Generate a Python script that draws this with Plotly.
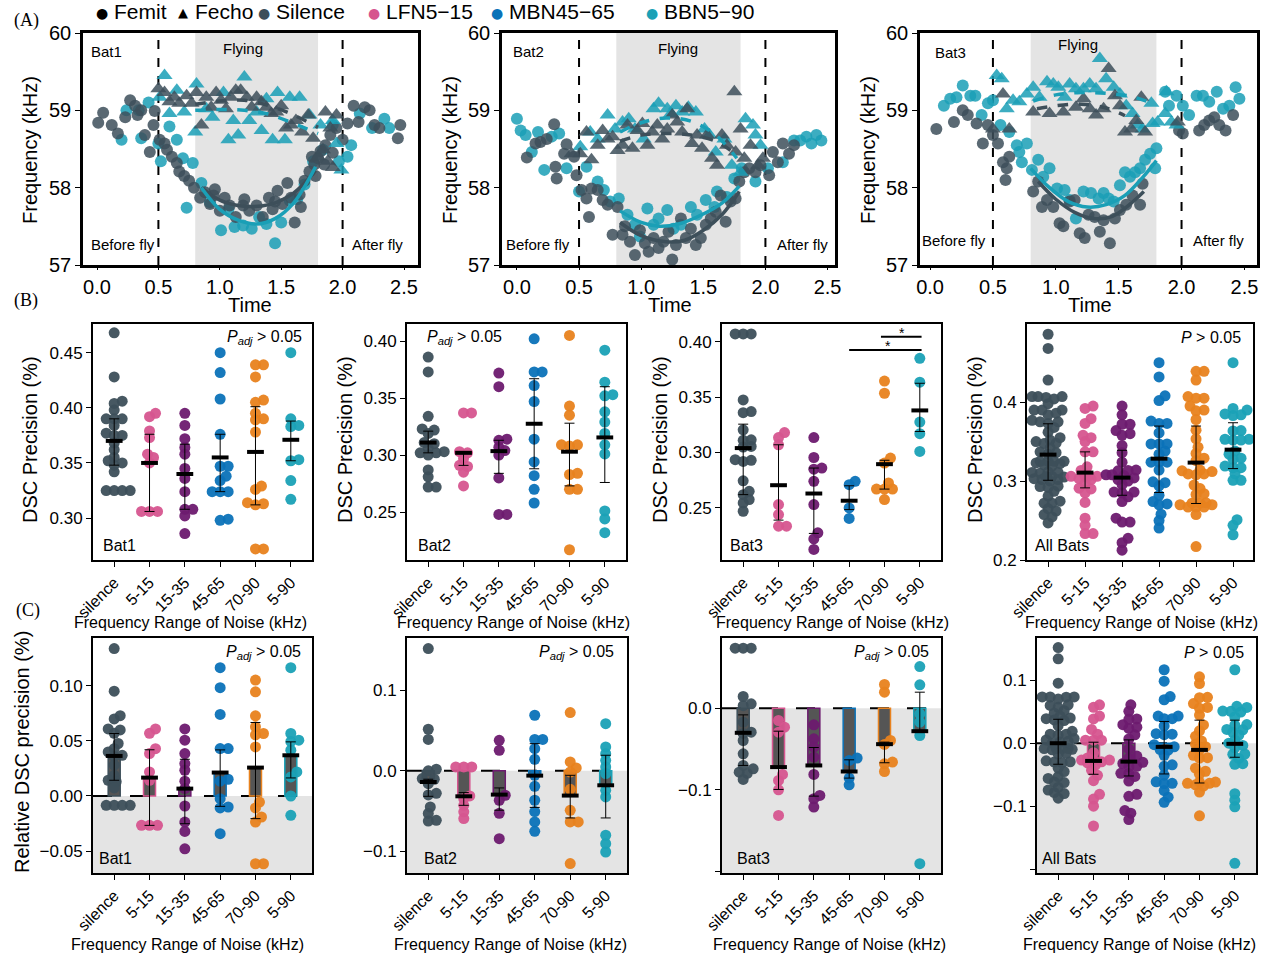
import plotly.graph_objects as go
import numpy as np

W, H = 1269, 956
FONT = "Liberation Sans, Arial, sans-serif"
SERIF = "Liberation Serif, Times New Roman, serif"
DARK = "#3d4f5a"
TEAL = "#1a9fb6"
CAT_LABELS = ["silence", "5-15", "15-35", "45-65", "70-90", "5-90"]
CAT_COLORS = ["#3d4f5a", "#d6558f", "#6d1a6f", "#0b72b8", "#e8821e", "#1aa1b6"]

# ---------------- Row A data: (time, frequency kHz) ----------------
bat1_sil_emit = [(0.01,58.84),(0.05,58.97),(0.12,58.81),(0.17,58.70),(0.23,58.91),(0.27,59.13),(0.31,59.06),(0.33,58.94),(0.36,59.00),(0.39,58.68),(0.43,58.46),(0.46,58.81),(0.47,58.99),(0.51,58.62),(0.55,58.57),(0.57,58.49),(0.61,58.40),(0.65,58.32),(0.67,58.21),(0.71,58.15),(0.75,58.09),(0.79,58.00),(0.84,57.87),(0.88,57.94),(0.92,57.79),(0.95,57.90),(0.96,57.98),(1.00,57.70),(1.04,57.87),(1.08,57.77),(1.13,57.62),(1.19,57.77),(1.20,57.85),(1.24,57.70),(1.30,57.77),(1.35,57.62),(1.40,57.87),(1.43,57.72),(1.45,57.82),(1.47,57.96),(1.51,57.79),(1.55,58.06),(1.58,57.87),(1.61,57.55),(1.65,57.91),(1.66,57.75),(1.69,58.09),(1.73,58.21),(1.75,58.40),(1.77,58.30),(1.78,58.15),(1.80,58.38),(1.82,58.47),(1.85,58.30),(1.86,58.55),(1.90,58.68),(1.92,58.45),(1.95,58.77),(2.00,58.62),(2.04,58.83),(2.09,59.06),(2.13,58.85),(2.18,59.04),(2.22,59.00),(2.26,58.81),(2.30,58.77),(2.45,58.64),(2.47,58.81)]
bat1_bbn_emit = [(0.20,58.62),(0.24,59.00),(0.34,59.00),(0.36,58.64),(0.42,59.10),(0.50,58.57),(0.52,58.34),(0.59,58.79),(0.65,58.62),(0.70,58.38),(0.73,57.74),(0.78,58.32),(0.85,58.06),(0.92,57.81),(1.01,57.45),(1.07,57.72),(1.12,57.49),(1.19,57.51),(1.26,57.47),(1.32,57.62),(1.38,57.53),(1.45,57.28),(1.50,57.55),(1.57,57.83),(1.63,57.85),(1.69,58.04),(1.76,58.34),(1.84,58.49),(1.92,58.81),(1.97,58.34),(2.04,58.40),(2.07,58.55),(2.14,58.96),(2.24,58.77),(2.34,58.89),(2.38,58.77)]
bat1_sil_echo = [(0.50,59.28),(0.55,59.23),(0.59,59.11),(0.63,59.17),(0.67,59.09),(0.73,59.19),(0.77,59.09),(0.81,59.23),(0.85,58.81),(0.89,59.17),(0.93,59.04),(0.97,59.23),(1.01,59.13),(1.05,59.02),(1.09,59.17),(1.13,59.26),(1.17,59.26),(1.22,59.17),(1.26,59.04),(1.30,59.17),(1.34,59.11),(1.38,59.04),(1.42,58.96),(1.46,58.98),(1.50,59.06),(1.54,58.77),(1.58,58.81),(1.62,58.87),(1.67,58.72),(1.72,58.94),(1.76,58.64),(1.80,58.40),(1.84,58.49),(1.86,58.98),(1.88,58.34),(1.90,58.77),(1.92,58.26),(1.95,58.94)]
bat1_bbn_echo = [(0.51,59.17),(0.55,59.45),(0.59,58.96),(0.65,59.26),(0.71,58.98),(0.80,58.72),(0.81,59.34),(0.89,59.02),(0.94,58.91),(1.03,59.23),(1.07,58.62),(1.11,58.87),(1.15,58.68),(1.20,59.43),(1.24,58.87),(1.30,58.98),(1.34,58.74),(1.38,59.15),(1.43,58.62),(1.47,59.23),(1.53,58.62),(1.57,59.17),(1.65,59.17),(1.73,58.94),(1.82,58.81),(1.92,58.87),(1.95,58.57),(1.99,58.23)]
bat1_sil_emit_fit = [(0.85,58.00),(1.00,57.84),(1.20,57.76),(1.40,57.78),(1.60,57.93),(1.78,58.22)]
bat1_bbn_emit_fit = [(0.85,58.00),(1.00,57.72),(1.15,57.58),(1.30,57.53),(1.45,57.60),(1.60,57.80),(1.78,58.27)]
bat1_sil_echo_fit = [(0.80,59.08),(1.00,59.12),(1.20,59.13),(1.40,59.06),(1.60,58.94),(1.80,58.78)]
bat1_bbn_echo_fit = [(0.80,59.00),(1.00,59.01),(1.20,59.00),(1.40,58.95),(1.60,58.83),(1.80,58.70)]

bat2_sil_emit = [(0.08,58.39),(0.15,58.57),(0.19,58.59),(0.24,58.63),(0.30,58.82),(0.31,58.27),(0.32,58.12),(0.38,58.44),(0.40,58.56),(0.46,58.40),(0.48,58.16),(0.52,57.97),(0.56,57.86),(0.58,57.62),(0.60,57.99),(0.65,57.97),(0.69,57.84),(0.73,57.78),(0.77,57.39),(0.81,57.75),(0.85,57.39),(0.87,57.50),(0.91,57.30),(0.95,57.13),(0.99,57.45),(1.03,57.28),(1.06,57.17),(1.10,57.35),(1.14,57.22),(1.18,57.30),(1.22,57.43),(1.25,57.07),(1.28,57.26),(1.32,57.60),(1.36,57.35),(1.40,57.47),(1.44,57.26),(1.48,57.35),(1.52,57.52),(1.56,57.60),(1.60,57.69),(1.64,57.90),(1.68,57.56),(1.72,57.82),(1.76,57.86),(1.79,58.08),(1.83,58.20),(1.87,58.25),(1.92,58.20),(1.96,58.29),(2.03,58.16),(2.06,58.46),(2.10,58.33),(2.14,58.57),(2.19,58.44),(2.23,58.55)]
bat2_bbn_emit = [(0.00,58.89),(0.03,58.74),(0.07,58.68),(0.12,58.46),(0.17,58.72),(0.22,58.23),(0.28,58.66),(0.34,58.70),(0.40,58.25),(0.50,57.95),(0.56,58.27),(0.65,58.08),(0.70,57.97),(0.75,57.82),(0.82,57.86),(0.89,57.65),(0.95,57.52),(0.99,57.37),(1.05,57.73),(1.10,57.52),(1.14,57.60),(1.21,57.71),(1.26,57.47),(1.32,57.52),(1.40,57.75),(1.45,57.65),(1.52,57.84),(1.59,57.75),(1.61,57.95),(1.69,57.88),(1.75,58.12),(1.81,58.25),(1.92,58.08),(2.02,58.25),(2.14,58.33),(2.23,58.61),(2.28,58.61),(2.33,58.66),(2.37,58.57),(2.41,58.68),(2.45,58.61)]
bat2_sil_echo = [(0.44,58.44),(0.51,58.44),(0.56,58.72),(0.60,58.36),(0.65,58.55),(0.69,58.74),(0.73,58.63),(0.77,58.66),(0.81,58.48),(0.85,58.55),(0.89,58.81),(0.93,58.51),(0.97,58.74),(1.01,58.83),(1.05,58.55),(1.09,58.72),(1.13,58.81),(1.17,58.63),(1.21,58.76),(1.25,58.94),(1.29,58.85),(1.33,58.72),(1.37,59.02),(1.41,58.57),(1.45,58.68),(1.49,58.51),(1.53,58.68),(1.57,58.38),(1.61,58.29),(1.65,58.68),(1.69,58.55),(1.75,59.24),(1.76,58.46),(1.80,58.76),(1.83,58.38),(1.88,58.55),(1.94,58.29),(1.98,58.38)]
bat2_bbn_echo = [(0.51,58.53),(0.59,58.72),(0.65,58.63),(0.73,58.94),(0.79,58.76),(0.85,58.85),(0.90,58.89),(0.95,58.76),(1.02,58.63),(1.10,59.02),(1.14,59.09),(1.21,59.02),(1.24,58.96),(1.28,59.06),(1.33,58.98),(1.38,59.04),(1.44,58.98),(1.51,58.76),(1.55,58.68),(1.60,58.46),(1.67,58.63),(1.73,58.29),(1.80,58.20),(1.84,58.89),(1.90,58.81),(1.92,58.68),(1.96,58.55)]
bat2_sil_emit_fit = [(0.83,57.55),(1.00,57.38),(1.20,57.30),(1.35,57.32),(1.50,57.45),(1.65,57.65),(1.79,57.95)]
bat2_bbn_emit_fit = [(0.83,57.70),(1.00,57.55),(1.15,57.50),(1.30,57.53),(1.50,57.66),(1.65,57.80),(1.79,58.02)]
bat2_sil_echo_fit = [(0.83,58.60),(1.00,58.68),(1.20,58.70),(1.40,58.68),(1.60,58.60),(1.77,58.42)]
bat2_bbn_echo_fit = [(0.83,58.72),(1.00,58.84),(1.20,58.90),(1.40,58.86),(1.60,58.68),(1.77,58.38)]

bat3_sil_emit = [(0.05,58.76),(0.19,58.85),(0.26,59.00),(0.30,58.94),(0.37,58.83),(0.42,58.57),(0.46,58.81),(0.50,58.68),(0.54,58.57),(0.58,58.33),(0.60,58.10),(0.61,58.25),(0.63,58.40),(0.82,57.95),(0.86,58.08),(0.89,57.75),(0.93,57.84),(0.98,57.75),(1.03,57.54),(1.06,57.50),(1.11,57.82),(1.15,57.84),(1.19,57.41),(1.23,57.35),(1.26,57.65),(1.31,57.62),(1.35,57.43),(1.38,57.58),(1.43,57.28),(1.47,57.60),(1.51,57.71),(1.56,57.78),(1.61,57.90),(1.67,57.78),(1.69,58.05),(1.98,58.74),(2.01,58.70),(2.14,58.74),(2.18,58.81),(2.22,58.87),(2.26,58.91),(2.30,58.81),(2.35,58.74),(2.41,58.94)]
bat3_bbn_emit = [(0.11,59.06),(0.16,59.15),(0.21,59.17),(0.26,59.32),(0.32,59.19),(0.36,59.19),(0.41,58.94),(0.46,59.09),(0.50,59.13),(0.56,58.81),(0.63,58.72),(0.69,58.55),(0.71,58.46),(0.73,58.33),(0.77,58.57),(0.81,58.23),(0.86,58.36),(0.90,58.14),(0.95,58.25),(1.01,57.99),(1.07,57.97),(1.11,57.84),(1.16,57.60),(1.22,57.95),(1.28,57.93),(1.34,57.86),(1.38,57.93),(1.42,57.86),(1.46,57.82),(1.51,58.03),(1.55,58.20),(1.59,58.14),(1.63,58.20),(1.67,58.25),(1.71,58.36),(1.75,58.44),(1.79,58.25),(1.80,58.51),(1.87,59.24),(1.90,59.06),(1.96,59.19),(2.01,59.06),(2.06,58.94),(2.12,59.19),(2.17,59.19),(2.22,59.11),(2.28,59.24),(2.33,59.02),(2.38,59.06),(2.43,59.30),(2.46,59.15)]
bat3_sil_echo = [(0.50,58.76),(0.58,59.21),(0.63,58.76),(0.82,58.98),(0.95,58.96),(1.06,58.98),(1.16,59.04),(1.22,59.15),(1.27,59.02),(1.32,58.94),(1.38,59.02),(1.42,59.54),(1.47,59.19),(1.51,59.06),(1.55,58.72),(1.60,58.76),(1.64,58.87),(1.68,59.17),(1.71,58.72),(1.97,58.85)]
bat3_bbn_echo = [(0.53,59.45),(0.57,59.41),(0.61,59.02),(0.66,59.13),(0.71,59.11),(0.77,59.21),(0.82,59.30),(0.87,59.17),(0.93,59.37),(0.98,59.34),(1.02,59.30),(1.07,59.17),(1.11,59.34),(1.16,59.28),(1.22,59.28),(1.27,59.34),(1.32,59.28),(1.35,59.67),(1.40,59.41),(1.46,59.30),(1.51,59.21),(1.56,59.06),(1.61,58.96),(1.65,58.81),(1.69,58.76),(1.76,59.09),(1.77,58.83),(1.81,58.85),(1.87,58.96),(1.88,59.24),(1.92,58.85),(1.96,58.81)]
bat3_sil_emit_fit = [(0.86,58.08),(1.00,57.85),(1.15,57.68),(1.30,57.60),(1.45,57.63),(1.60,57.80),(1.70,57.95)]
bat3_bbn_emit_fit = [(0.80,58.25),(0.95,58.00),(1.10,57.82),(1.25,57.75),(1.40,57.78),(1.55,57.90),(1.70,58.15),(1.80,58.35)]
bat3_sil_echo_fit = [(0.85,59.02),(1.00,59.06),(1.20,59.08),(1.40,59.03),(1.55,58.93)]
bat3_bbn_echo_fit = [(0.82,59.12),(1.00,59.20),(1.20,59.23),(1.40,59.22),(1.60,59.18),(1.75,59.10)]

# ---------------- Row B data: DSC precision ----------------
b1_silence = [0.468,0.428,0.406,0.404,0.398,0.390,0.390,0.390,0.384,0.377,0.375,0.375,0.368,0.362,0.355,0.352,0.350,0.348,0.342,0.325,0.325,0.325,0.325]
b1_515 = [0.395,0.392,0.379,0.373,0.358,0.355,0.350,0.306,0.306,0.306]
b1_1535 = [0.395,0.384,0.372,0.364,0.358,0.345,0.336,0.324,0.308,0.308,0.302,0.286]
b1_4565 = [0.450,0.432,0.408,0.376,0.347,0.347,0.338,0.334,0.324,0.324,0.324,0.299,0.298]
b1_7090 = [0.439,0.439,0.428,0.407,0.405,0.395,0.390,0.389,0.378,0.329,0.326,0.314,0.313,0.312,0.272,0.272]
b1_590 = [0.450,0.390,0.384,0.383,0.353,0.352,0.334,0.317]
b1_mean = [0.370,0.350,0.340,0.355,0.360,0.371]
b1_lo = [0.348,0.306,0.308,0.324,0.312,0.352]
b1_hi = [0.390,0.376,0.367,0.376,0.401,0.388]

b2_silence = [0.386,0.373,0.334,0.323,0.322,0.319,0.311,0.310,0.306,0.303,0.302,0.302,0.300,0.287,0.281,0.272,0.272]
b2_515 = [0.337,0.337,0.303,0.302,0.297,0.291,0.290,0.285,0.273]
b2_1535 = [0.372,0.360,0.314,0.313,0.307,0.304,0.300,0.280,0.248,0.248]
b2_4565 = [0.402,0.373,0.373,0.361,0.347,0.314,0.294,0.282,0.270,0.258]
b2_7090 = [0.405,0.343,0.335,0.309,0.309,0.308,0.284,0.283,0.270,0.270,0.217]
b2_590 = [0.392,0.364,0.353,0.352,0.338,0.329,0.319,0.309,0.301,0.251,0.244,0.232]
b2_mean = [0.311,0.302,0.3035,0.3275,0.303,0.3155]
b2_lo = [0.302,0.291,0.284,0.288,0.273,0.276]
b2_hi = [0.321,0.302,0.313,0.367,0.328,0.360]

b3_silence = [0.407,0.407,0.407,0.3475,0.337,0.336,0.3205,0.3115,0.311,0.3055,0.305,0.2935,0.293,0.292,0.2745,0.265,0.262,0.2575,0.2545,0.247]
b3_515 = [0.318,0.3135,0.307,0.253,0.244,0.2335,0.2335]
b3_1535 = [0.3135,0.2955,0.286,0.285,0.274,0.253,0.2275,0.222,0.2125]
b3_4565 = [0.274,0.271,0.250,0.2405]
b3_7090 = [0.3645,0.3535,0.295,0.2905,0.2725,0.267,0.267,0.267,0.2575]
b3_590 = [0.385,0.3635,0.3275,0.317,0.301]
b3_mean = [0.304,0.2705,0.263,0.2565,0.2895,0.338]
b3_lo = [0.262,0.239,0.227,0.2485,0.267,0.319]
b3_hi = [0.3256,0.307,0.286,0.270,0.293,0.3625]

ball_extra_silence = [0.486]
ball_mean = [0.3335,0.3107,0.3044,0.3284,0.3234,0.3398]
ball_lo = [0.301,0.2914,0.282,0.2855,0.2716,0.3158]
ball_hi = [0.3726,0.337,0.339,0.3697,0.3697,0.3739]

# ---------------- Row C data: relative DSC precision ----------------
c1_silence = [0.134,0.0953,0.073,0.070,0.061,0.060,0.057,0.0477,0.043,0.040,0.037,0.036,0.028,0.0188,0.0143,0.013,0.0073,-0.0085,-0.0085,-0.0085,-0.0085]
c1_515 = [0.061,0.057,0.043,0.0386,0.0219,0.0143,-0.0267,-0.0267,-0.0267]
c1_1535 = [0.061,0.0507,0.0386,0.0295,0.0234,0.0134,0.0067,-0.0091,-0.0237,-0.0322,-0.048]
c1_4565 = [0.1166,0.0984,0.0741,0.0431,0.0431,0.0152,0.0135,-0.0024,-0.0109,-0.0100,-0.0343]
c1_7090 = [0.1054,0.0947,0.0729,0.0629,0.0568,0.0555,0.0446,-0.0055,-0.0109,-0.0191,-0.0237,-0.0616,-0.0616]
c1_590 = [0.1166,0.0568,0.0507,0.0495,0.0416,0.0219,0.0173,0.0,-0.0176]
c1_mean = [0.0364,0.0167,0.0067,0.0213,0.0258,0.037]
c1_lo = [0.0143,-0.0267,-0.0252,-0.0094,-0.0206,0.0164]
c1_hi = [0.0568,0.042,0.0334,0.0419,0.0668,0.0492]

c2_silence = [0.1518,0.0516,0.039,0.0019,0.0,-0.0097,-0.0105,-0.016,-0.028,-0.030,-0.045,-0.053,-0.0615,-0.0625]
c2_515 = [0.0048,0.0048,0.0048,-0.0313,-0.0346,-0.0429,-0.051,-0.0594]
c2_1535 = [0.0379,0.0255,-0.0304,-0.0366,-0.0528,-0.0843]
c2_4565 = [0.069,0.039,0.039,0.0275,0.0143,-0.0056,-0.0193,-0.0366,-0.0507,-0.0636,-0.0752]
c2_7090 = [0.0723,0.011,0.0035,-0.0015,-0.023,-0.0491,-0.0636,-0.0636,-0.1153]
c2_590 = [0.0586,0.0296,0.0213,0.013,0.0048,-0.0035,-0.0242,-0.0325,-0.0801,-0.0905,-0.1009]
c2_mean = [-0.0139,-0.0317,-0.0296,-0.006,-0.0308,-0.018]
c2_lo = [-0.0317,-0.0429,-0.049,-0.0455,-0.0586,-0.0586]
c2_hi = [-0.0105,-0.0271,-0.0213,0.0337,-0.0056,0.0193]

c3_silence = [0.0735,0.0735,0.0735,0.0143,0.0053,0.003,-0.0171,-0.0294,-0.031,-0.0396,-0.0559,-0.0702,-0.0743,-0.0784,-0.080,-0.0873]
c3_515 = [-0.0151,-0.0233,-0.0294,-0.0812,-0.0886,-0.100,-0.1314]
c3_1535 = [-0.0204,-0.0376,-0.0478,-0.060,-0.0812,-0.1069,-0.111,-0.1212]
c3_4565 = [-0.0612,-0.064,-0.0857,-0.0939]
c3_7090 = [0.029,0.0196,-0.0396,-0.0445,-0.0661,-0.0682,-0.0776]
c3_590 = [0.051,0.0286,-0.0069,-0.0171,-0.0335,-0.1906]
c3_mean = [-0.0302,-0.0722,-0.0702,-0.0776,-0.0441,-0.0282]
c3_lo = [-0.0702,-0.0996,-0.1078,-0.0857,-0.0669,-0.0282]
c3_hi = [-0.0082,-0.0282,-0.0482,-0.0633,-0.0416,0.0196]

call_mean = [0.0,-0.0281,-0.0292,-0.0058,-0.0106,-0.001]
call_lo = [-0.0334,-0.0493,-0.052,-0.0488,-0.0631,-0.0223]
call_hi = [0.038,0.0016,0.0053,0.0345,0.0366,0.0366]

# ======================================================================
fig = go.Figure()
axes = {}
shapes = []
annotations = []


def names(n):
    if n == 1:
        return "x", "y", "xaxis", "yaxis"
    return f"x{n}", f"y{n}", f"xaxis{n}", f"yaxis{n}"


def setup_axes(n, box, xr, yr, xticks, xtext, yticks, ytext, xfs, yfs, xangle=0, lw=2, xticklen=5):
    l, t, r, b = box
    xn, yn, xk, yk = names(n)
    common = dict(showline=True, mirror=True, linecolor="black", linewidth=lw,
                  ticks="outside", tickwidth=1, tickcolor="black",
                  showgrid=False, zeroline=False, fixedrange=True, automargin=False)
    axes[xk] = dict(domain=[l / W, r / W], range=xr, anchor=yn, tickmode="array", ticklen=xticklen,
                    tickvals=xticks, ticktext=xtext, tickangle=xangle,
                    tickfont=dict(family=FONT, size=xfs, color="black"), **common)
    axes[yk] = dict(domain=[1 - b / H, 1 - t / H], range=yr, anchor=xn, tickmode="array", ticklen=5,
                    tickvals=yticks, ticktext=ytext,
                    tickfont=dict(family=FONT, size=yfs, color="black"), **common)
    return xn, yn


def text(xp, yp, s, size, xanchor="center", angle=0, family=FONT, yanchor="middle", color="black"):
    annotations.append(dict(x=xp / W, y=1 - yp / H, xref="paper", yref="paper", text=s,
                            showarrow=False, xanchor=xanchor, yanchor=yanchor, textangle=angle,
                            font=dict(family=family, size=size, color=color)))


# ---------------- Row A ----------------
top_panels = [
    (1, (83, 33, 418, 265), [-0.114, 2.614], bat1_sil_emit, bat1_bbn_emit, bat1_sil_echo, bat1_bbn_echo,
     bat1_sil_emit_fit, bat1_bbn_emit_fit, bat1_sil_echo_fit, bat1_bbn_echo_fit),
    (2, (502, 33, 835, 265), [-0.12, 2.56], bat2_sil_emit, bat2_bbn_emit, bat2_sil_echo, bat2_bbn_echo,
     bat2_sil_emit_fit, bat2_bbn_emit_fit, bat2_sil_echo_fit, bat2_bbn_echo_fit),
    (3, (920, 33, 1257, 265), [-0.08, 2.6], bat3_sil_emit, bat3_bbn_emit, bat3_sil_echo, bat3_bbn_echo,
     bat3_sil_emit_fit, bat3_bbn_emit_fit, bat3_sil_echo_fit, bat3_bbn_echo_fit),
]
time_ticks = [0.0, 0.5, 1.0, 1.5, 2.0, 2.5]
freq_ticks = [57, 58, 59, 60]
for (n, box, xr, se, be, sc, bc, sef, bef, scf, bcf) in top_panels:
    xn, yn = setup_axes(n, box, xr, [57, 60], time_ticks, [f"{v:.1f}" for v in time_ticks],
                        freq_ticks, [str(v) for v in freq_ticks], 20, 20, lw=2.5, xticklen=2)
    shapes.append(dict(type="rect", xref=xn, yref=yn, x0=0.8, x1=1.8, y0=57, y1=60,
                       fillcolor="#e4e4e4", line=dict(width=0), layer="below"))
    for xv in (0.5, 2.0):
        shapes.append(dict(type="line", xref=xn, yref=yn, x0=xv, x1=xv, y0=57, y1=60,
                           line=dict(color="black", width=2, dash="dash"), layer="below"))
    for pts, col, sym, sz in ((be, TEAL, "circle", 12), (se, DARK, "circle", 12),
                              (bc, TEAL, "triangle-up", 14), (sc, DARK, "triangle-up", 14)):
        fig.add_trace(go.Scatter(x=[p[0] for p in pts], y=[p[1] for p in pts], mode="markers",
                                 marker=dict(color=col, symbol=sym, size=sz, opacity=0.85, line=dict(width=0)),
                                 xaxis=xn, yaxis=yn, showlegend=False, hoverinfo="skip"))
    for pts, col, dash in ((sef, DARK, "solid"), (bef, TEAL, "solid"), (scf, DARK, "dash"), (bcf, TEAL, "dash")):
        fig.add_trace(go.Scatter(x=[p[0] for p in pts], y=[p[1] for p in pts], mode="lines",
                                 line=dict(color=col, width=3.5, dash=dash, shape="spline"),
                                 xaxis=xn, yaxis=yn, showlegend=False, hoverinfo="skip"))

# Row A texts
text(89, 52, "Bat1", 15, "left")
text(243, 48, "Flying", 15)
text(157, 245, "Before fly", 15, "right")
text(350, 245, "After fly", 15, "left")
text(511, 52, "Bat2", 15, "left")
text(678, 48, "Flying", 15)
text(572, 245, "Before fly", 15, "right")
text(775, 245, "After fly", 15, "left")
text(933, 53, "Bat3", 15, "left")
text(1078, 45, "Flying", 15)
text(988, 241, "Before fly", 15, "right")
text(1191, 241, "After fly", 15, "left")
for cx in (30, 450, 868):
    text(cx, 150, "Frequency (kHz)", 20, angle=-90)
text(250, 305, "Time", 20)
text(670, 305, "Time", 20)
text(1090, 305, "Time", 20)


# ---------------- swarm helper ----------------
def swarm(values, px_per_unit, px_per_cat, dmin=6.5, step=2.0, maxoff=16.0):
    vals = np.asarray(values, dtype=float)
    order = np.argsort(vals)
    placed = []
    offs = np.zeros(len(vals))
    cands = [0.0]
    k = 1
    while k * step <= maxoff:
        cands += [k * step, -k * step]
        k += 1
    for i in order:
        y = vals[i] * px_per_unit
        best, bestd = 0.0, -1.0
        for c in cands:
            d = min([np.hypot(c - px, y - py) for px, py in placed] + [1e9])
            if d >= dmin:
                best = c
                break
            if d > bestd:
                best, bestd = c, d
        placed.append((best, y))
        offs[i] = best / px_per_cat
    return offs


def dot_panel(n, box, xr, yr, groups, mean, lo, hi, yticks, ytext, bars=False):
    xn, yn = setup_axes(n, box, xr, yr, list(range(6)), CAT_LABELS, yticks, ytext, 16, 17, xangle=-45, lw=2)
    l, t, r, b = box
    ppu = (b - t) / (yr[1] - yr[0])
    ppc = (r - l) / (xr[1] - xr[0])
    if bars:
        shapes.append(dict(type="rect", xref=xn, yref=yn, x0=xr[0], x1=xr[1], y0=yr[0], y1=0,
                           fillcolor="#e4e4e4", line=dict(width=0), layer="below"))
        shapes.append(dict(type="line", xref=xn, yref=yn, x0=xr[0], x1=xr[1], y0=0, y1=0,
                           line=dict(color="black", width=2, dash="19px,18px"), layer="below"))
        fig.add_trace(go.Bar(x=list(range(6)), y=mean, width=0.34, xaxis=xn, yaxis=yn,
                             marker=dict(color="#555555", line=dict(color=CAT_COLORS, width=1.5)),
                             showlegend=False, hoverinfo="skip"))
    for i, vals in enumerate(groups):
        offs = swarm(vals, ppu, ppc)
        fig.add_trace(go.Scatter(x=i + offs, y=vals, mode="markers", xaxis=xn, yaxis=yn,
                                 marker=dict(color=CAT_COLORS[i], size=11, opacity=0.95, line=dict(width=0)),
                                 showlegend=False, hoverinfo="skip"))
    m = np.array(mean); lo_ = np.array(lo); hi_ = np.array(hi)
    fig.add_trace(go.Scatter(x=list(range(6)), y=mean, mode="markers", xaxis=xn, yaxis=yn,
                             marker=dict(size=1, color="rgba(0,0,0,0)"),
                             error_y=dict(type="data", symmetric=False, array=list(hi_ - m),
                                          arrayminus=list(m - lo_), color="black", thickness=1, width=5),
                             showlegend=False, hoverinfo="skip"))
    fig.add_trace(go.Scatter(x=list(range(6)), y=mean, mode="markers", xaxis=xn, yaxis=yn,
                             marker=dict(symbol="line-ew", size=12, line=dict(width=4, color="black")),
                             showlegend=False, hoverinfo="skip"))
    return xn, yn


XR = [-0.6, 5.6]
b_all = [b1_silence + b2_silence + b3_silence + ball_extra_silence, b1_515 + b2_515 + b3_515,
         b1_1535 + b2_1535 + b3_1535, b1_4565 + b2_4565 + b3_4565, b1_7090 + b2_7090 + b3_7090,
         b1_590 + b2_590 + b3_590]
dot_panel(4, (93, 324, 312, 560), XR, [0.262, 0.476], [b1_silence, b1_515, b1_1535, b1_4565, b1_7090, b1_590],
          b1_mean, b1_lo, b1_hi, [0.30, 0.35, 0.40, 0.45], ["0.30", "0.35", "0.40", "0.45"])
dot_panel(5, (407, 324, 626, 560), XR, [0.208, 0.415], [b2_silence, b2_515, b2_1535, b2_4565, b2_7090, b2_590],
          b2_mean, b2_lo, b2_hi, [0.25, 0.30, 0.35, 0.40], ["0.25", "0.30", "0.35", "0.40"])
xn7, yn7 = dot_panel(6, (722, 324, 941, 560), XR, [0.203, 0.416], [b3_silence, b3_515, b3_1535, b3_4565, b3_7090, b3_590],
                     b3_mean, b3_lo, b3_hi, [0.25, 0.30, 0.35, 0.40], ["0.25", "0.30", "0.35", "0.40"])
dot_panel(7, (1027, 324, 1253, 560), [-0.57, 5.54], [0.2, 0.499], b_all,
          ball_mean, ball_lo, ball_hi, [0.2, 0.3, 0.4], ["0.2", "0.3", "0.4"])

# significance bars in Bat3
for x0, x1, yv, xs in ((3.9, 5.05, 0.4045, 4.5), (3.0, 5.05, 0.3925, 4.1)):
    shapes.append(dict(type="line", xref=xn7, yref=yn7, x0=x0, x1=x1, y0=yv, y1=yv,
                       line=dict(color="black", width=2)))
    annotations.append(dict(x=xs, y=yv, xref=xn7, yref=yn7, text="*", showarrow=False,
                            yanchor="bottom", yshift=-6, font=dict(family=FONT, size=14, color="black")))

c_all = [c1_silence + c2_silence + c3_silence, c1_515 + c2_515 + c3_515, c1_1535 + c2_1535 + c3_1535,
         c1_4565 + c2_4565 + c3_4565, c1_7090 + c2_7090 + c3_7090, c1_590 + c2_590 + c3_590]
dot_panel(8, (93, 638, 312, 873), XR, [-0.07, 0.1436], [c1_silence, c1_515, c1_1535, c1_4565, c1_7090, c1_590],
          c1_mean, c1_lo, c1_hi, [-0.05, 0.0, 0.05, 0.10], ["\u22120.05", "0.00", "0.05", "0.10"], bars=True)
dot_panel(9, (407, 638, 627, 873), XR, [-0.127, 0.165], [c2_silence, c2_515, c2_1535, c2_4565, c2_7090, c2_590],
          c2_mean, c2_lo, c2_hi, [-0.1, 0.0, 0.1], ["\u22120.1", "0.0", "0.1"], bars=True)
dot_panel(10, (722, 638, 941, 873), XR, [-0.202, 0.086], [c3_silence, c3_515, c3_1535, c3_4565, c3_7090, c3_590],
          c3_mean, c3_lo, c3_hi, [-0.2, -0.1, 0.0], ["", "\u22120.1", "0.0"], bars=True)
dot_panel(11, (1037, 638, 1256, 873), XR, [-0.206, 0.167], c_all,
          call_mean, call_lo, call_hi, [-0.2, -0.1, 0.0, 0.1], ["", "\u22120.1", "0.0", "0.1"], bars=True)

# Row B/C texts
PADJ = "<i>P</i><sub><i>adj</i></sub> > 0.05"
text(304, 337, PADJ, 16, "right")
text(425, 337, PADJ, 16, "left")
text(1243, 337, "<i>P</i> > 0.05", 16, "right")
text(303, 652, PADJ, 16, "right")
text(616, 652, PADJ, 16, "right")
text(931, 652, PADJ, 16, "right")
text(1246, 652, "<i>P</i> > 0.05", 16, "right")
text(101, 545, "Bat1", 16, "left")
text(416, 545, "Bat2", 16, "left")
text(728, 545, "Bat3", 16, "left")
text(1033, 545, "All Bats", 16, "left")
text(97, 858, "Bat1", 16, "left")
text(422, 858, "Bat2", 16, "left")
text(735, 858, "Bat3", 16, "left")
text(1040, 858, "All Bats", 16, "left")
for cx in (30, 345, 660, 975):
    text(cx, 440, "DSC Precision (%)", 20, angle=-90)
text(22, 752, "Relative DSC precision (%)", 20, angle=-90)
for cx in (190, 513, 833, 1141):
    text(cx, 622, "Frequency Range of Noise (kHz)", 16)
for cx in (187, 510, 830, 1139):
    text(cx, 944, "Frequency Range of Noise (kHz)", 16)

# panel letters
text(12, 20, "(A)", 18, "left", family=SERIF)
text(12, 300, "(B)", 18, "left", family=SERIF)
text(14, 610, "(C)", 18, "left", family=SERIF)

# legend row: glyph centre x, glyph, glyph size, colour, label left x, label
legend_items = [(102, "\u25CF", 14, "#000000", 112, "Femit"),
                (183, "\u25B2", 13, "#000000", 193, "Fecho"),
                (264, "\u25CF", 14, DARK, 274, "Silence"),
                (374, "\u25CF", 14, CAT_COLORS[1], 384, "LFN5\u221215"),
                (497, "\u25CF", 14, CAT_COLORS[3], 507, "MBN45\u221265"),
                (652, "\u25CF", 14, CAT_COLORS[5], 662, "BBN5\u221290")]
for gx, glyph, gs, col, lx, lab in legend_items:
    text(gx, 13, glyph, gs, "center", family="DejaVu Sans", color=col)
    text(lx, 12, lab, 21, "left")

fig.update_layout(width=W, height=H, margin=dict(l=0, r=0, t=0, b=0),
                  paper_bgcolor="white", plot_bgcolor="white", showlegend=False,
                  barmode="overlay", shapes=shapes, annotations=annotations,
                  font=dict(family=FONT, color="black"), **axes)
fig.write_html("out.html")
